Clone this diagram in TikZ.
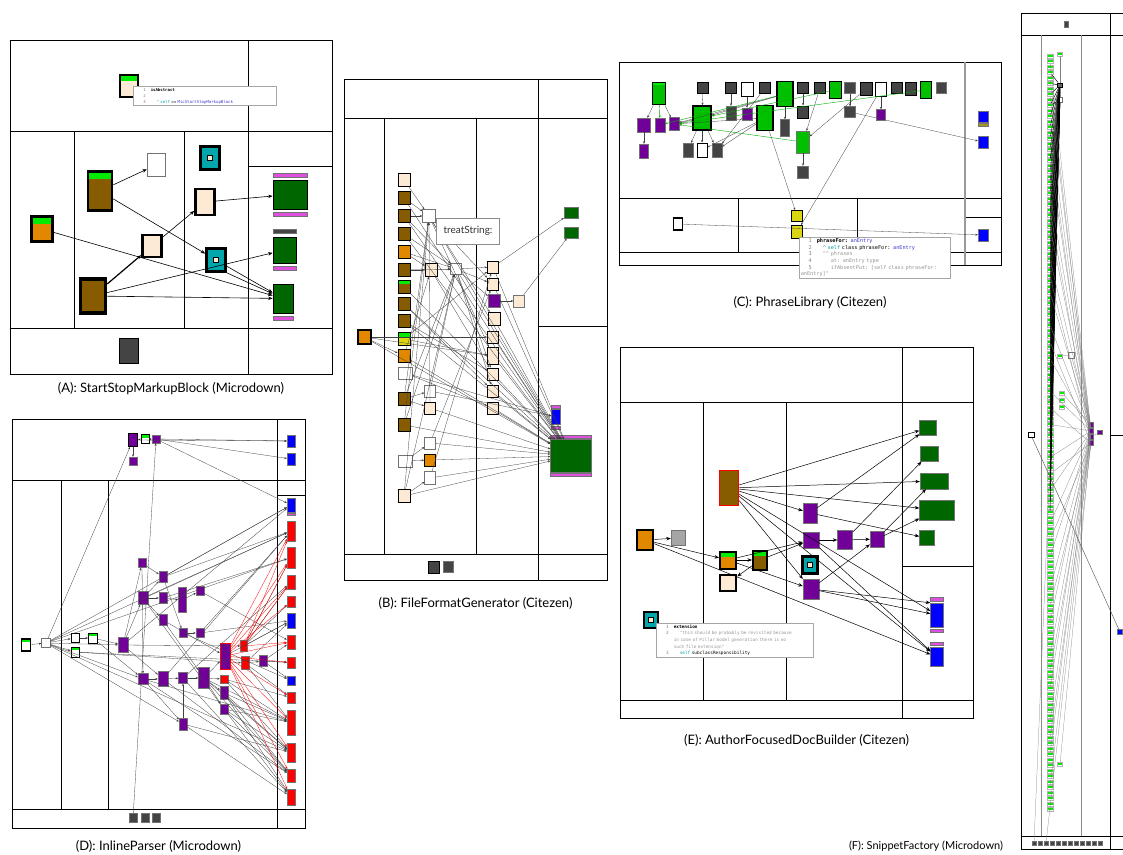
\documentclass[tikz,border=0pt]{standalone}
\usepackage{fontspec}
\setmainfont{Lato}
\newfontfamily\codefont{DejaVu Sans Mono}
\usepackage{tikz}
\usetikzlibrary{shapes,arrows.meta,positioning,calc}
\usepackage{xcolor}

\definecolor{brownC}{RGB}{135,92,0}
\definecolor{orangeC}{RGB}{225,135,0}
\definecolor{beigeC}{RGB}{253,234,212}
\definecolor{barG}{RGB}{0,235,0}
\definecolor{dgreenC}{RGB}{0,102,0}
\definecolor{lgreenC}{RGB}{0,192,0}
\definecolor{tealC}{RGB}{0,166,170}
\definecolor{dgrayC}{RGB}{68,68,68}
\definecolor{magC}{RGB}{222,80,222}
\definecolor{purpC}{RGB}{112,0,152}
\definecolor{blueC}{RGB}{0,0,255}
\definecolor{redC}{RGB}{255,0,0}
\definecolor{yelC}{RGB}{218,214,20}
\definecolor{oliveC}{RGB}{165,150,30}
\definecolor{grayC}{RGB}{165,165,165}
\definecolor{codeKw}{RGB}{0,160,170}
\definecolor{codeCls}{RGB}{60,60,210}
\definecolor{codeStr}{RGB}{150,150,150}

\newcommand{\cln}[1]{\makebox[11pt][r]{\color{gray}#1}\hspace{5pt}}
\newcommand{\cnt}{\hspace{16pt}}

\tikzset{
  frame/.style={draw, line width=0.7pt, inner sep=0pt},
  cls/.style={draw, rectangle, inner sep=0pt, line width=0.5pt},
  heavy/.style={line width=2.6pt},
  mid/.style={line width=1pt},
  lite/.style={line width=0.4pt, draw=black!55},
  sz/.style 2 args={minimum width=#1, minimum height=#2},
  gbar/.style={path picture={\fill[barG] (path picture bounding box.north west) rectangle ([yshift=-#1]path picture bounding box.north east);}},
  gbar/.default=5pt,
  tealbox/.style={fill=tealC, path picture={\draw[line width=0.7pt, fill=beigeC] ([shift={(-2.5pt,-2.5pt)}]path picture bounding box.center) rectangle ([shift={(2.5pt,2.5pt)}]path picture bounding box.center);}},
  mbar/.style={cls, lite, fill=magC, minimum height=4},
  fitem/.style={cls, draw=black!30, line width=0.25pt, fill=white, gbar=2.5pt},
  dep/.style={-{Stealth[length=4.5pt,width=3.5pt]}, line width=0.6pt},
  wire/.style={-{Stealth[length=2.5pt,width=2pt]}, line width=0.3pt, black!75},
  rwire/.style={wire, red},
  gwire/.style={wire, lgreenC!90!black, line width=0.4pt},
  fwire/.style={line width=0.25pt, black!50},
  tip/.style={draw=black!35, fill=white, line width=0.5pt, inner sep=1.5pt, align=left, anchor=north west},
  lbl/.style={inner sep=0pt},
}

\begin{document}
\begin{tikzpicture}[x=1pt, y=-1pt, >=Stealth, font=\fontsize{13}{15}\selectfont]
    \useasboundingbox (0,0) rectangle (1123,854);

    \node[frame, sz={322}{334}] (fa) at (171,207) {};
    \draw[line width=0.7pt] (10,131) -- (332,131) (248,40) -- (248,374) (10,328) -- (332,328)
        (74,131) -- (74,328) (184,131) -- (184,328) (248,166) -- (332,166);
    \node[lbl, below=8pt of fa] (la) {(A): StartStopMarkupBlock (Microdown)};

    \node[cls, heavy, fill=beigeC, gbar=6pt, sz={18}{22}] (a1) at (129,86) {};
    \node[cls, lite, fill=white, sz={18}{23}] (a2) at (156,165) {};
    \node[cls, heavy, tealbox, sz={19}{23}] (a3) at (210,158) {};
    \node[cls, heavy, fill=brownC, gbar=7pt, sz={24}{39}] (a4) at (100,191) {};
    \node[cls, heavy, fill=beigeC, sz={19}{26}] (a5) at (205,202) {};
    \node[cls, heavy, fill=orangeC, gbar=7pt, sz={21}{25}] (a6) at (42,229) {};
    \node[cls, heavy, fill=beigeC, sz={19}{22}] (a7) at (152,246) {};
    \node[cls, heavy, tealbox, sz={19}{23}] (a8) at (216,260) {};
    \node[cls, line width=3.5pt, fill=brownC, sz={25}{34}] (a9) at (93,296) {};
    \node[cls, mid, line width=1.6pt, fill=dgrayC, sz={19}{25}] (a10) at (129,351) {};
    \node[cls, lite, line width=0.8pt, draw=black, fill=dgreenC, sz={34}{29}] (a11) at (290,194.5) {};
    \node[mbar, minimum width=34, above=2pt of a11] (a11t) {};
    \node[mbar, minimum width=34, below=2.5pt of a11] (a11b) {};
    \node[cls, lite, line width=0.8pt, draw=black, fill=dgreenC, sz={23}{26}] (a12) at (284.5,250) {};
    \node[mbar, fill=dgrayC, minimum width=23, above=3pt of a12] (a12t) {};
    \node[mbar, minimum width=23, below=3pt of a12] (a12b) {};
    \node[cls, lite, line width=0.8pt, draw=black, fill=dgreenC, sz={20}{29}] (a13) at (283,298.5) {};
    \node[mbar, minimum width=20, below=3pt of a13] (a13b) {};

    \draw[dep] (a4) -- (a2);
    \draw[dep] (a4) -- (a8);
    \draw[dep] (a5) -- (a11);
    \draw[dep] (a6) -- (a13);
    \draw[dep, line width=1.2pt] (a9) -- (a7);
    \draw[dep] (a7) -- (a5);
    \draw[dep] (a9) -- (a12);
    \draw[dep] (a9) -- (a13);
    \draw[dep] (a8) -- (a13);
    \draw[dep] (a8.south east) -- (a13);

    \node[tip, text width=140pt, font=\codefont\fontsize{4}{6}\selectfont] (atip) at (133,86)
        {\cln{1}\textbf{isAbstract}\\ \cln{2}\\ \cln{3}\hspace{6pt}{\color{codeKw}\textasciicircum{} self} == {\color{codeCls}MicStartStopMarkupBlock}};

    \node[frame, sz={263}{501}] (fb) at (475.5,329.5) {};
    \draw[line width=0.7pt] (344,118) -- (607,118) (538,79) -- (538,580) (344,554) -- (607,554)
        (384,118) -- (384,554) (476,118) -- (476,554) (538,326) -- (607,326);
    \node[lbl, below=17pt of fb] (lb) {(B): FileFormatGenerator (Citezen)};

    \node[cls, mid, fill=beigeC, sz={12}{13}] (b1) at (404,180) {};
    \node[cls, mid, fill=brownC, sz={12}{13}] (b2) at (404,198) {};
    \node[cls, mid, fill=brownC, sz={12}{13}] (b3) at (404,216) {};
    \node[cls, mid, fill=brownC, sz={12}{13}] (b4) at (404,234) {};
    \node[cls, mid, fill=orangeC, sz={12}{13}] (b5) at (404,252) {};
    \node[cls, mid, fill=brownC, sz={12}{13}] (b6) at (404,270) {};
    \node[cls, mid, fill=brownC, gbar=3.5pt, sz={12}{13}] (b7) at (404,287) {};
    \node[cls, mid, fill=brownC, sz={12}{13}] (b8) at (404,304) {};
    \node[cls, mid, fill=brownC, sz={12}{13}] (b9) at (404,321) {};
    \node[cls, mid, fill=yelC, gbar=4pt, sz={12}{13}] (b10) at (404,339) {};
    \node[cls, mid, fill=orangeC, sz={12}{13}] (b11) at (404,356) {};
    \node[cls, lite, fill=white, sz={14}{12}] (b12) at (405,373) {};
    \node[cls, mid, fill=brownC, sz={12}{13}] (b13) at (404,399) {};
    \node[cls, mid, fill=brownC, sz={12}{13}] (b14) at (404,425) {};
    \node[cls, lite, fill=white, sz={14}{12}] (b15) at (405,461) {};
    \node[cls, mid, fill=beigeC, sz={12}{13}] (b16) at (404,496) {};
    \node[cls, heavy, line width=2pt, fill=orangeC, sz={13}{14}] (b17) at (364,337) {};
    \node[cls, lite, fill=white, sz={13}{13}] (b18) at (429,216) {};
    \node[cls, mid, fill=beigeC, sz={12}{13}] (b19) at (431,270) {};
    \node[cls, lite, fill=white, sz={11}{11}] (b20) at (456,269) {};
    \node[cls, mid, fill=beigeC, sz={11}{12}] (b21) at (493,267) {};
    \node[cls, mid, fill=beigeC, sz={11}{12}] (b22) at (493,284) {};
    \node[cls, lite, fill=purpC, sz={12}{13}] (b23) at (494,301) {};
    \node[cls, mid, fill=beigeC, sz={12}{13}] (b24) at (494,319) {};
    \node[cls, mid, fill=beigeC, sz={11}{12}] (b25) at (493,337) {};
    \node[cls, mid, fill=beigeC, sz={11}{17}] (b26) at (493,356) {};
    \node[cls, mid, fill=beigeC, sz={11}{12}] (b27) at (493,374) {};
    \node[cls, mid, fill=beigeC, sz={11}{12}] (b28) at (493,391) {};
    \node[cls, mid, fill=beigeC, sz={11}{12}] (b29) at (493,408) {};
    \node[cls, lite, fill=beigeC, sz={11}{12}] (b30) at (519,301) {};
    \node[cls, lite, fill=dgreenC, sz={14}{11}] (b31) at (571,213) {};
    \node[cls, lite, fill=dgreenC, sz={14}{11}] (b32) at (571,233) {};
    \node[cls, lite, fill=blueC, sz={9}{15}] (b33) at (556,417) {};
    \node[mbar, minimum width=9, minimum height=3, above=1pt of b33] (b33t) {};
    \node[mbar, minimum width=9, minimum height=3, below=1pt of b33] (b33b) {};
    \node[cls, lite, fill=dgreenC, sz={41}{33}] (b34) at (571,456) {};
    \node[mbar, minimum width=41, minimum height=3, above=0.5pt of b34] (b34t) {};
    \node[mbar, minimum width=41, minimum height=3, below=0.5pt of b34] (b34b) {};
    \node[cls, lite, fill=white, sz={11}{12}] (b35) at (430,391) {};
    \node[cls, mid, fill=beigeC, sz={11}{12}] (b36) at (430,408) {};
    \node[cls, lite, fill=white, sz={11}{12}] (b37) at (430,443) {};
    \node[cls, mid, fill=orangeC, sz={11}{12}] (b38) at (430,460) {};
    \node[cls, lite, fill=white, sz={11}{13}] (b39) at (430,478) {};
    \node[cls, mid, fill=dgrayC, sz={11}{12}] (b40) at (434,567) {};
    \node[cls, lite, fill=dgrayC, sz={10}{11}] (b41) at (448,567) {};

    \foreach \s/\t in {b1/b18, b2/b18, b3/b18, b4/b20, b5/b19, b6/b19, b6/b20, b3/b20, b2/b34, b3/b34,
        b4/b34, b8/b34, b9/b34, b10/b21, b13/b18, b14/b18, b13/b20, b14/b20, b16/b18, b16/b20,
        b16/b34, b16/b39, b15/b38, b15/b37, b39/b21, b39/b34, b37/b22, b37/b34, b12/b33, b13/b35,
        b13/b36, b14/b34, b18/b22, b18/b24, b18/b34, b18/b26, b20/b21, b20/b22, b20/b23, b20/b34,
        b20/b27, b20/b28, b19/b20, b23/b30, b30/b32, b21/b31, b21/b34, b22/b34, b24/b34, b25/b34,
        b26/b34, b27/b34, b28/b34, b29/b34, b35/b33, b36/b34, b7/b34, b8/b28, b9/b27, b10/b26,
        b11/b34, b5/b20, b19/b27, b11/b19, b17/b11, b17/b25, b17/b26, b17/b34, b12/b29, b38/b34,
        b35/b20, b36/b18}
        \draw[wire] (\s) -- (\t);

    \node[draw=black!45, fill=white, line width=0.5pt, sz={63}{26}, font=\fontsize{10}{12}\selectfont, text=black!80] (btip) at (468,231) {treatString:};

    \node[frame, sz={382}{203}] (fc) at (810,163.5) {};
    \draw[line width=0.7pt] (619,198) -- (1001,198) (619,252) -- (1001,252) (738,198) -- (738,252)
        (857,198) -- (857,252) (965,217) -- (1001,217);
    \draw[line width=1.4pt, black!40] (965,62) -- (965,265);
    \node[lbl, below=31pt of fc] (lc) {(C): PhraseLibrary (Citezen)};

    \node[cls, mid, fill=lgreenC, gbar=3pt, sz={13}{22}] (c1) at (659,93) {};
    \node[cls, mid, fill=dgrayC, sz={11}{11}] (c2) at (703,88) {};
    \node[cls, mid, fill=dgrayC, sz={11}{11}] (c3) at (731,88) {};
    \node[cls, mid, fill=white, sz={12}{14}] (c4) at (747,89) {};
    \node[cls, mid, fill=dgrayC, sz={11}{11}] (c5) at (765,88) {};
    \node[cls, mid, line width=1.4pt, fill=lgreenC, sz={16}{25}] (c6) at (785,94) {};
    \node[cls, mid, fill=dgrayC, sz={11}{11}] (c7) at (803,88) {};
    \node[cls, mid, fill=dgrayC, sz={11}{11}] (c8) at (820,88) {};
    \node[cls, mid, fill=lgreenC, sz={12}{17}] (c9) at (835,90) {};
    \node[cls, lite, fill=dgrayC, sz={11}{11}] (c10) at (850,88) {};
    \node[cls, mid, fill=dgrayC, sz={12}{13}] (c11) at (866,89) {};
    \node[cls, mid, fill=white, sz={11}{14}] (c12) at (881,89) {};
    \node[cls, mid, fill=dgrayC, sz={11}{11}] (c13) at (897,88) {};
    \node[cls, mid, fill=dgrayC, sz={11}{13}] (c14) at (911,89) {};
    \node[cls, mid, fill=lgreenC, sz={11}{17}] (c15) at (926,90) {};
    \node[cls, lite, fill=dgrayC, sz={10}{11}] (c16) at (941,88) {};
    \node[cls, lite, fill=purpC, sz={13}{14}] (c17) at (644,125) {};
    \node[cls, lite, fill=purpC, sz={10}{14}] (c18) at (660,125) {};
    \node[cls, lite, fill=purpC, sz={10}{13}] (c19) at (674,124) {};
    \node[cls, line width=1.6pt, fill=lgreenC, sz={18}{24}] (c20) at (702,118) {};
    \node[cls, lite, fill=dgrayC, sz={10}{14}] (c21) at (731,113) {};
    \node[cls, lite, fill=purpC, sz={10}{12}] (c22) at (747,114) {};
    \node[cls, line width=1.6pt, fill=lgreenC, sz={16}{25}] (c23) at (765,118) {};
    \node[cls, lite, fill=dgrayC, sz={9}{17}] (c24) at (785,128) {};
    \node[cls, mid, fill=dgrayC, sz={11}{12}] (c25) at (803,112) {};
    \node[cls, lite, fill=dgrayC, sz={11}{11}] (c26) at (850,112) {};
    \node[cls, lite, fill=purpC, sz={9}{11}] (c27) at (881,115) {};
    \node[cls, lite, fill=purpC, sz={9}{14}] (c28) at (644,151) {};
    \node[cls, lite, fill=dgrayC, sz={10}{14}] (c29) at (688,150) {};
    \node[cls, mid, fill=white, sz={10}{14}] (c30) at (702,150) {};
    \node[cls, lite, fill=dgrayC, sz={10}{14}] (c31) at (717,150) {};
    \node[cls, lite, fill=lgreenC, sz={13}{22}] (c32) at (803,142) {};
    \node[cls, lite, fill=dgrayC, sz={11}{12}] (c33) at (803,172) {};
    \node[cls, lite, fill=blueC, sz={10}{11}] (c34) at (983,117) {};
    \node[cls, lite, fill=oliveC, sz={10}{3}, below=0.5pt of c34] (c34b) {};
    \node[cls, lite, fill=blueC, sz={10}{12}] (c35) at (983,142) {};
    \node[cls, lite, fill=blueC, sz={10}{12}] (c36) at (983,235) {};
    \node[cls, line width=1.8pt, fill=white, sz={9}{12}] (c37) at (678,224) {};
    \node[cls, mid, fill=yelC, sz={11}{11}] (c38) at (797,216) {};
    \node[cls, mid, fill=yelC, sz={11}{13}] (c39) at (797,232) {};

    \foreach \s/\t in {c1/c17, c1/c19, c17/c28, c2/c20, c20/c29, c20/c30, c20/c31, c20/c19, c3/c21,
        c6/c24, c7/c25, c8/c32, c11/c32, c12/c27, c10/c26, c32/c33, c26/c35, c37/c36, c6/c19,
        c23/c31, c5/c31, c23/c30, c6/c20, c4/c22, c23/c19, c12/c39, c23/c38}
        \draw[wire] (\s) -- (\t);
    \foreach \s/\t in {c1/c18, c15/c19, c6/c18, c32/c19, c9/c20}
        \draw[gwire] (\s) -- (\t);

    \node[tip, text width=148pt, font=\codefont\fontsize{5.2}{6.6}\selectfont] (ctip) at (799,237)
        {\cln{1}\textbf{phraseFor:} {\color{codeCls}anEntry}\\
        \cln{2}\hspace{6pt}{\color{codeKw}\textasciicircum{} self} class phraseFor: {\color{codeCls}anEntry}\\
        \cln{3}\hspace{6pt}{\color{codeStr}"\textasciicircum{} phrases}\\
        \cln{4}\hspace{14pt}{\color{codeStr}at: anEntry type}\\
        \cln{5}\hspace{14pt}{\color{codeStr}ifAbsentPut: [self class phraseFor:}\\
        {\color{codeStr}anEntry]"}};

    \node[frame, sz={293}{409}] (fd) at (158.5,623.5) {};
    \draw[line width=0.7pt] (12,480) -- (305,480) (277,419) -- (277,828) (277,495) -- (305,495)
        (12,809) -- (305,809) (61,480) -- (61,809) (108,480) -- (108,809);
    \node[lbl, below=12pt of fd] (ld) {(D): InlineParser (Microdown)};

    \node[cls, mid, fill=purpC, sz={9}{13}] (d1) at (133,440) {};
    \node[cls, mid, fill=white, gbar=3pt, sz={8}{9}] (d2) at (145,439) {};
    \node[cls, lite, fill=purpC, sz={8}{8}] (d3) at (156,439) {};
    \node[cls, lite, fill=purpC, sz={8}{8}] (d4) at (133,461) {};
    \node[cls, lite, fill=blueC, sz={8}{12}] (d5) at (291,441) {};
    \node[cls, lite, fill=blueC, sz={8}{12}] (d6) at (291,459) {};
    \node[cls, lite, fill=blueC, sz={8}{14}] (r1) at (291,505) {};
    \node[mbar, minimum width=8, minimum height=2, below=0.5pt of r1] (r1b) {};
    \node[cls, lite, fill=redC, sz={8}{20}] (r2) at (291,531) {};
    \node[cls, lite, fill=redC, sz={8}{21}] (r3) at (291,557.5) {};
    \node[cls, lite, fill=redC, sz={8}{14}] (r4) at (291,582) {};
    \node[cls, lite, fill=redC, sz={8}{11}] (r5) at (291,601.5) {};
    \node[cls, lite, fill=blueC, sz={8}{15}] (r6) at (291,620.5) {};
    \node[cls, lite, fill=redC, sz={8}{14}] (r7) at (291,642) {};
    \node[cls, lite, fill=redC, sz={8}{11}] (r8) at (291,662.5) {};
    \node[cls, lite, fill=blueC, sz={8}{9}] (r9) at (291,680.5) {};
    \node[cls, lite, fill=redC, sz={8}{11}] (r10) at (291,697.5) {};
    \node[cls, lite, fill=redC, sz={8}{25}] (r11) at (291,722.5) {};
    \node[cls, lite, fill=redC, sz={8}{19}] (r12) at (291,752.5) {};
    \node[cls, lite, fill=redC, sz={8}{13}] (r13) at (291,775.5) {};
    \node[cls, lite, fill=redC, sz={8}{16}] (r14) at (291,797) {};
    \node[cls, mid, line width=1.6pt, fill=white, gbar=3pt, sz={9}{12}] (d7) at (26,645) {};
    \node[cls, lite, fill=white, sz={9}{9}] (d8) at (46,643) {};
    \node[cls, mid, fill=white, sz={8}{9}] (d9) at (75,638) {};
    \node[cls, mid, fill=white, gbar=3pt, sz={9}{10}] (d10) at (93,638) {};
    \node[cls, mid, fill=white, gbar=3pt, sz={8}{10}] (d11) at (75,652) {};
    \node[cls, lite, fill=purpC, sz={10}{15}] (d12) at (123,645) {};
    \node[cls, lite, fill=purpC, sz={8}{9}] (d13) at (142,563) {};
    \node[cls, lite, fill=purpC, sz={8}{11}] (d14) at (163,577) {};
    \node[cls, lite, fill=purpC, sz={10}{13}] (d15) at (143,598) {};
    \node[cls, lite, fill=purpC, sz={8}{11}] (d16) at (163,598) {};
    \node[cls, lite, fill=purpC, sz={8}{25}] (d17) at (182,600) {};
    \node[cls, lite, fill=purpC, sz={8}{9}] (d18) at (200,591) {};
    \node[cls, lite, fill=purpC, sz={8}{11}] (d19) at (163,620) {};
    \node[cls, lite, fill=purpC, sz={8}{9}] (d20) at (183,633) {};
    \node[cls, lite, fill=purpC, sz={8}{9}] (d21) at (200,633) {};
    \node[cls, lite, draw=redC, line width=0.6pt, fill=purpC, sz={10}{26}] (d22) at (225,656) {};
    \node[cls, lite, fill=redC, sz={7}{11}] (d23) at (244,646) {};
    \node[cls, lite, fill=redC, sz={8}{13}] (d24) at (245,663) {};
    \node[cls, lite, fill=purpC, sz={8}{11}] (d25) at (263,661) {};
    \node[cls, lite, fill=redC, sz={8}{8}] (d26) at (224,679) {};
    \node[cls, lite, fill=purpC, sz={8}{13}] (d27) at (224,693) {};
    \node[cls, lite, fill=purpC, sz={8}{10}] (d28) at (224,709) {};
    \node[cls, lite, fill=purpC, sz={10}{11}] (d29) at (143,679) {};
    \node[cls, lite, fill=purpC, sz={10}{15}] (d30) at (163,679) {};
    \node[cls, lite, fill=purpC, sz={9}{11}] (d31) at (183,678) {};
    \node[cls, lite, fill=purpC, sz={11}{21}] (d32) at (204,678) {};
    \node[cls, lite, fill=purpC, sz={8}{12}] (d33) at (183,724) {};
    \node[cls, lite, fill=dgrayC, sz={8}{9}] (g1) at (133,818) {};
    \node[cls, lite, fill=dgrayC, sz={8}{9}] (g2) at (145,818) {};
    \node[cls, lite, fill=dgrayC, sz={8}{9}] (g3) at (156,818) {};

    \foreach \s/\t in {d2/d1, d1/d4, d2/d3, d3/d5, d3/d6, d1/d5, d3/r1, d8/d1, d7/d8, d8/r1, d8/r2,
        d8/r3, d8/d9, d8/d11, d8/d12, d8/d29, d8/r12, d8/d33, d9/d10, d10/d12, d10/d29, d11/d24,
        d11/r8, d12/d13, d12/d15, d12/d23, d13/d14, d14/r1, d15/d16, d15/d14, d15/d19, d15/r2,
        d16/d17, d17/d18, d19/d32, d20/d21, d21/r6, d18/r7, d15/d28, d29/d30, d30/d31, d31/d32,
        d32/d22, d29/d33, d33/d31, d33/r12, d29/r13, d32/d26, d32/d27, d32/d28, d27/r11, d28/r14,
        d28/r13, d27/r12, d26/r10, d23/r3, d24/d25, d25/r8, d25/r7, d24/r6, d23/r5, g1/d3, d13/d29,
        d16/r3, d14/r2, d33/r14, d32/r11, d32/r12, d31/r14, d30/r13, d21/r2, d20/r9, d26/r11,
        d27/r13, d28/r12, d24/r10, d12/r1, d14/d20, d19/d22, d30/r2, d31/r4, d12/d30, d32/r13,
        d29/r11, d28/r11, d27/r14, d26/r12, d23/r4, d24/r11, d23/r6, d25/r9, d22/r6}
        \draw[wire] (\s) -- (\t);
    \foreach \t in {r2, r3, r4, r5, r7, r8, r10, r11, r12, r13, r14}
        \draw[rwire] (d22) -- (\t);
    \foreach \t in {r2, r3, r4, r7}
        \draw[rwire] (d23) -- (\t);

    \node[frame, sz={353}{371}] (fe) at (796.5,532.5) {};
    \draw[line width=0.7pt] (620,402) -- (973,402) (902,347) -- (902,718) (620,700) -- (973,700)
        (703,402) -- (703,700) (786,402) -- (786,700) (902,566) -- (973,566);
    \node[lbl, below=16pt of fe] (le) {(E): AuthorFocusedDocBuilder (Citezen)};

    \node[cls, lite, fill=dgreenC, sz={17}{15}] (e1) at (928,428) {};
    \node[cls, lite, fill=dgreenC, sz={18}{15}] (e2) at (929,454) {};
    \node[cls, lite, fill=dgreenC, sz={28}{16}] (e3) at (934,481) {};
    \node[cls, lite, fill=dgreenC, sz={35}{20}] (e4) at (937,510) {};
    \node[cls, lite, fill=dgreenC, sz={15}{15}] (e5) at (927,538) {};
    \node[cls, line width=1.5pt, draw=redC, fill=brownC, sz={19}{35}] (e6) at (729,488) {};
    \node[cls, lite, fill=purpC, sz={14}{20}] (e7) at (810,513) {};
    \node[cls, lite, fill=purpC, sz={16}{16}] (e8) at (811,540) {};
    \node[cls, lite, fill=purpC, sz={15}{19}] (e9) at (845,540) {};
    \node[cls, lite, fill=purpC, sz={14}{16}] (e10) at (877,539) {};
    \node[cls, heavy, tealbox, sz={15}{17}] (e11) at (810,565) {};
    \node[cls, lite, fill=purpC, sz={16}{20}] (e12) at (811,589) {};
    \node[cls, heavy, fill=orangeC, sz={16}{20}] (e13) at (645,540) {};
    \node[cls, lite, fill=grayC, sz={14}{15}] (e14) at (678,538) {};
    \node[cls, heavy, line width=2pt, fill=orangeC, gbar=5pt, sz={16}{17}] (e15) at (728,560) {};
    \node[cls, heavy, line width=2pt, fill=brownC, gbar=5pt, sz={14}{19}] (e16) at (760,560) {};
    \node[cls, heavy, fill=beigeC, sz={16}{16}] (e17) at (728,583) {};
    \node[cls, heavy, tealbox, sz={14}{16}] (e18) at (651,620) {};
    \node[cls, lite, fill=blueC, sz={13}{24}] (e19) at (937,615) {};
    \node[mbar, minimum width=13, minimum height=3.5, above=1.5pt of e19] (e19t) {};
    \node[mbar, minimum width=13, minimum height=3.5, below=1.5pt of e19] (e19b) {};
    \node[cls, lite, fill=blueC, sz={13}{19}] (e20) at (937,657) {};
    \node[mbar, minimum width=13, minimum height=3.5, above=1.5pt of e20] (e20t) {};

    \foreach \s/\t in {e13/e14, e13/e15, e13/e20, e15/e16, e15/e12, e15/e8, e16/e8, e16/e17, e6/e1,
        e6/e3, e6/e4, e6/e7, e6/e12, e6/e19, e6/e20, e7/e1, e7/e5, e8/e9, e9/e10, e9/e2, e10/e3,
        e10/e4, e12/e10, e12/e19, e8/e20, e12/e19.north west}
        \draw[dep, line width=0.5pt] (\s) -- (\t);

    \node[tip, text width=154pt, font=\codefont\fontsize{4.4}{6.6}\selectfont] (etip) at (656,623)
        {\cln{1}\textbf{extension}\\
        \cln{2}\hspace{6pt}{\color{codeStr}"this should be probably be revisited because}\\
        \cnt{\color{codeStr}in case of Pillar model generation there is no}\\
        \cnt{\color{codeStr}such file extension"}\\
        \cln{3}\hspace{6pt}{\color{codeKw}self} subclassResponsibility};

    \draw[line width=0.6pt] (1021,13) -- (1123,13) (1021,13) -- (1021,849) -- (1123,849)
        (1021,35) -- (1123,35) (1110,13) -- (1110,849) (1021,836) -- (1123,836) (1110,435) -- (1123,435);
    \draw[line width=0.4pt, black!45] (1041,35) -- (1041,836) (1081,35) -- (1081,836);
    \node[lbl, font=\fontsize{11}{13}\selectfont] (lf) at (926,846) {(F): SnippetFactory (Microdown)};

    \node[cls, lite, fill=dgrayC, sz={4}{6}] (f0) at (1066,24) {};
    \foreach \i in {1,...,138}
        \node[fitem, sz={6}{4}] (f\i) at (1050,50.5+5.5*\i) {};
    \node[fitem, sz={5}{4}] (fx1) at (1060,54) {};
    \node[cls, mid, fill=black!60, sz={5}{4}] (fx2) at (1060,85) {};
    \node[cls, lite, fill=white, sz={5}{5}] (fx3) at (1060,100) {};
    \node[cls, lite, fill=white, sz={6}{6}] (fw) at (1071,355) {};
    \node[fitem, sz={5}{4}] (fx4) at (1060,356) {};
    \node[fitem, sz={5}{4}] (fx5) at (1062,393) {};
    \node[fitem, sz={5}{4}] (fx6) at (1062,400) {};
    \node[fitem, sz={5}{4}] (fx7) at (1062,407) {};
    \node[fitem, sz={5}{4}] (fx8) at (1060,764) {};
    \node[cls, lite, fill=purpC, sz={5}{5}] (fp1) at (1091,425) {};
    \node[cls, lite, fill=purpC, sz={5}{5}] (fp2) at (1091,431) {};
    \node[cls, lite, fill=purpC, sz={5}{5}] (fp3) at (1091,437) {};
    \node[cls, lite, fill=purpC, sz={5}{5}] (fp4) at (1091,443) {};
    \node[cls, lite, fill=purpC, sz={5}{4}] (fp5) at (1100,432) {};
    \node[cls, mid, line width=0.8pt, fill=white, sz={6}{5}] (fl) at (1031,435) {};
    \node[cls, lite, fill=blueC, sz={5}{5}] (fblue) at (1120,632) {};
    \foreach \i in {0,...,11}
        \node[cls, lite, fill=dgrayC, sz={4}{4}] (fg\i) at (1034+6*\i,843) {};

    \foreach \i in {4,6,...,84}
        \draw[line width=0.45pt] (fx2) -- (f\i);
    \foreach \i in {10,20,...,80}
        \draw[line width=0.45pt] (fx3) -- (f\i);
    \foreach \i in {2,8,...,134}
        \draw[fwire] (f\i) -- (fp2);
    \foreach \i in {5,17,...,125}
        \draw[fwire] (f\i) -- (fp4);
    \draw[fwire] (fx1) -- (fx2);
    \draw[fwire] (fx2) -- (fx3);
    \draw[fwire] (fx4) -- (fw);
    \draw[fwire] (fw) -- (fp1);
    \draw[fwire] (fx5) -- (fp1);
    \draw[fwire] (fx8) -- (fp3);
    \draw[fwire] (fp3) -- (fp5);
    \draw[fwire] (fg0) -- (f75);
    \draw[fwire] (fg2) -- (fp4);
    \draw[line width=0.4pt, black!70] (fl) -- (fblue);
\end{tikzpicture}
\end{document}
